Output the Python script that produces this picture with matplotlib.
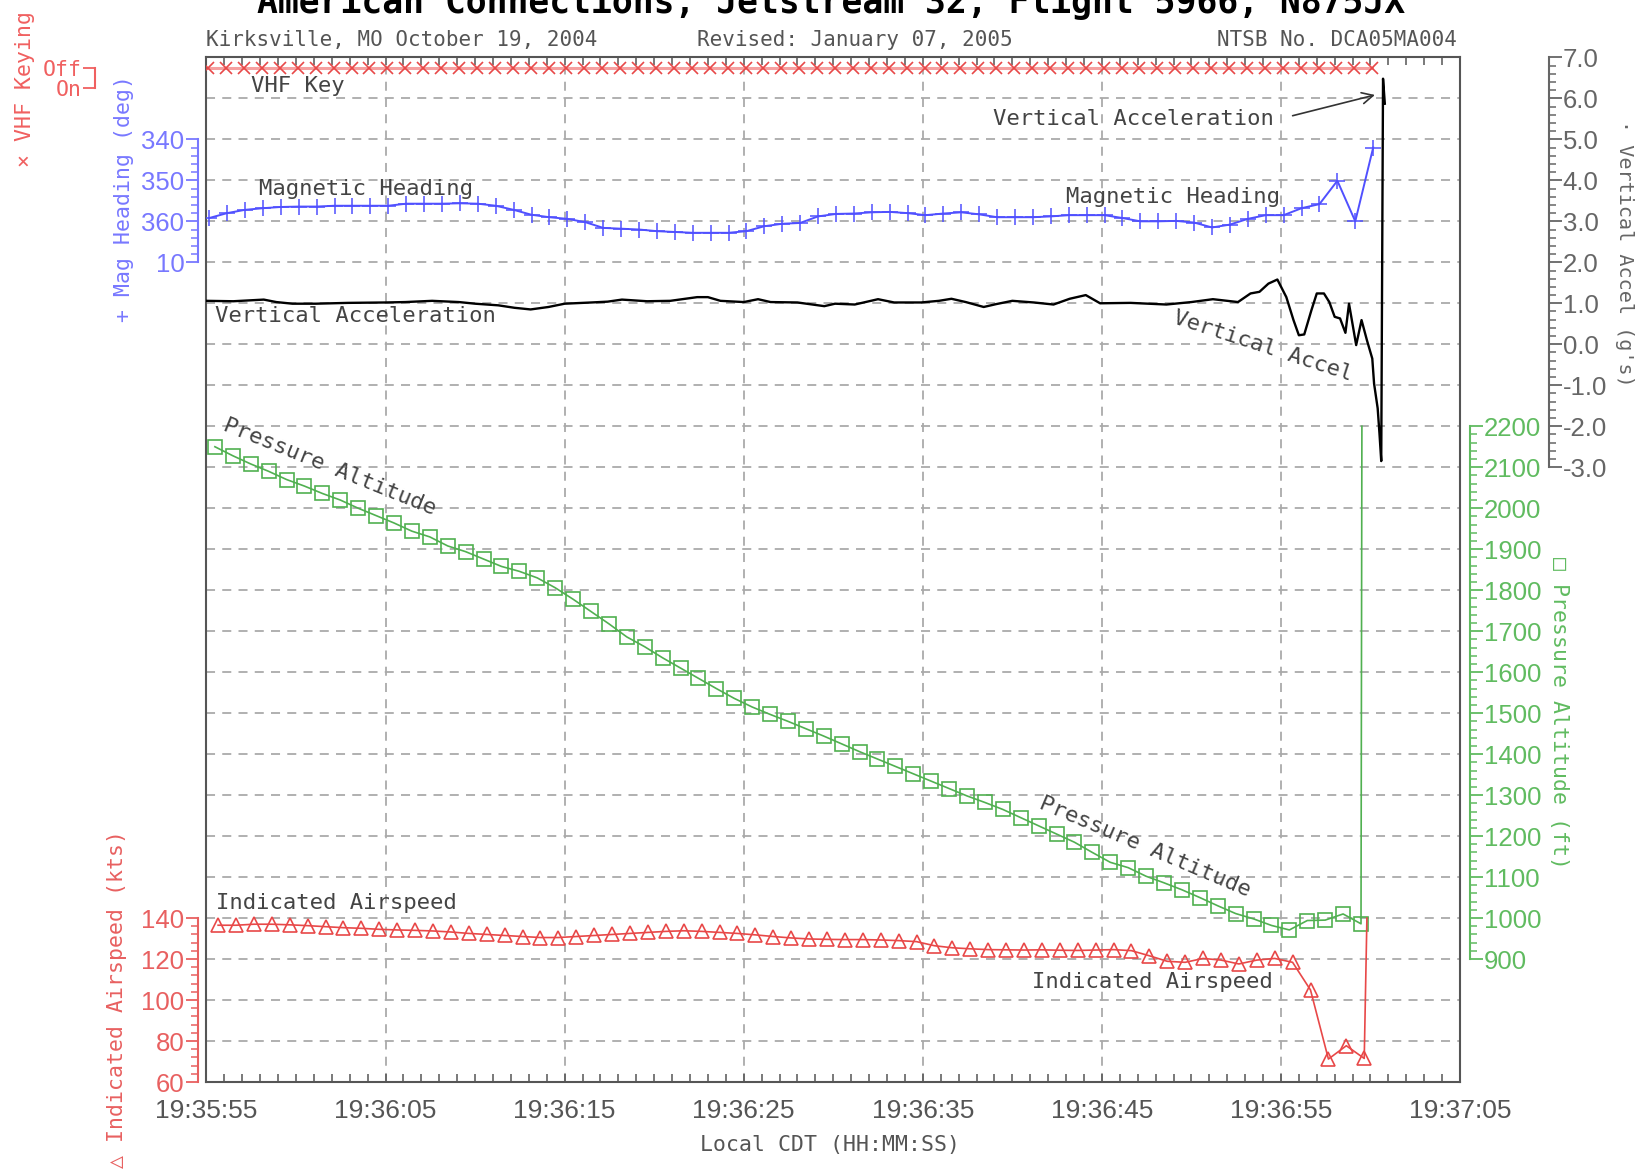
"""Flight data recorder plot: American Connections 5966 (NTSB DCA05MA004)."""

import matplotlib
matplotlib.use("Agg")
import matplotlib.pyplot as plt
from matplotlib.ticker import FixedLocator, MultipleLocator, FuncFormatter
import numpy as np

START = 19 * 3600 + 35 * 60 + 55   # 19:35:55 CDT, seconds of day
MONO = "DejaVu Sans Mono"
SANS = "Liberation Sans"

# ---- data (time = seconds after 19:35:55) ----
# VHF keying, 1 Hz, value 1 = Off for the whole record
vhf_t0 = 0.1
vhf_key = [1] * 66

# magnetic heading, 1 Hz (unwrapped degrees, 370 = 10)
hdg_t0 = 0.15
heading = [
    359.2, 358.0, 357.2, 356.8, 356.5, 356.4, 356.4, 356.2, 356.2, 356.2,
    356.2, 355.7, 355.7, 355.7, 355.6, 355.7, 356.2, 357.2, 358.4, 359.0,
    359.4, 360.2, 361.6, 361.8, 362.0, 362.4, 362.6, 362.8, 362.8, 362.8,
    362.4, 361.2, 360.6, 360.4, 358.8, 358.2, 358.1, 357.8, 357.7, 358.0,
    358.5, 358.1, 357.8, 358.3, 359.0, 359.0, 359.0, 358.8, 358.5, 358.5,
    358.5, 359.2, 360.0, 360.0, 359.9, 360.3, 361.5, 360.8, 359.4, 358.5,
    358.5, 356.8, 355.8, 350.1, 360.0, 342.0,
]

# indicated airspeed (kts), 1 Hz, last sample runs off scale
ias_t0 = 0.65
airspeed = [
    136.5, 136.5, 137.0, 137.0, 136.7, 136.3, 135.8, 135.3, 135.0, 134.5,
    134.2, 134.0, 133.7, 133.2, 132.5, 132.0, 131.5, 131.0, 130.5, 130.5,
    131.0, 131.5, 132.0, 132.5, 133.0, 133.5, 133.8, 133.5, 133.0, 132.5,
    131.8, 131.0, 130.3, 129.8, 129.6, 129.5, 129.5, 129.3, 129.0, 128.5,
    126.5, 125.5, 125.0, 124.6, 124.5, 124.4, 124.5, 124.3, 124.2, 124.4,
    124.6, 124.1, 121.6, 118.9, 118.4, 120.3, 119.5, 117.6, 119.5, 120.3,
    118.4, 104.9, 71.2, 77.7, 71.5,
]
ias_end = (64.8, 140.0)

# pressure altitude (ft), 1 Hz, last sample runs off scale
alt_t0 = 0.47
altitude = [
    2150, 2128, 2108, 2090, 2070, 2054, 2036, 2020, 2000, 1982,
    1964, 1944, 1930, 1908, 1894, 1876, 1858, 1846, 1830, 1806,
    1778, 1748, 1718, 1686, 1662, 1635, 1610, 1585, 1560, 1536,
    1515, 1497, 1480, 1462, 1444, 1425, 1406, 1388, 1370, 1352,
    1334, 1316, 1298, 1282, 1265, 1245, 1225, 1205, 1185, 1160,
    1136, 1123, 1102, 1086, 1069, 1050, 1030, 1011, 998, 982,
    971, 994, 995, 1010, 986,
]
alt_end = (64.52, 2200.0)

# vertical acceleration (g)
accel_t = [
    0.0, 1.5, 3.2, 3.9, 4.8, 6.1, 7.9, 10.0, 11.1, 12.6, 14.1, 15.0, 16.3,
    17.2, 18.1, 19.1, 20.0, 21.5, 22.4, 23.2, 24.6, 25.9, 27.4, 28.0, 28.7,
    30.0, 30.8, 31.5, 33.0, 34.5, 35.1, 36.2, 37.5, 38.4, 39.9, 40.9, 41.6,
    42.4, 43.4, 44.1, 45.0, 46.2, 47.3, 48.2, 49.1, 49.9, 51.6, 53.6, 55.0,
    56.2, 57.6, 58.3, 58.8, 59.3, 59.8, 60.3, 60.7, 61.0, 61.3, 61.7, 62.0,
    62.4, 62.7, 63.0, 63.3, 63.6, 63.8, 64.2, 64.5, 64.8, 65.1, 65.2, 65.4,
    65.5, 65.6, 65.7, 65.8,
]
accel_g = [
    1.06, 1.05, 1.09, 1.03, 0.99, 0.99, 1.01, 1.02, 1.03, 1.06, 1.03, 0.99, 0.95,
    0.89, 0.85, 0.91, 0.99, 1.02, 1.04, 1.09, 1.05, 1.06, 1.15, 1.15, 1.06,
    1.03, 1.10, 1.03, 1.02, 0.93, 0.99, 0.97, 1.10, 1.02, 1.02, 1.06, 1.11,
    1.03, 0.91, 0.98, 1.06, 1.02, 0.97, 1.11, 1.20, 1.00, 1.01, 0.97, 1.03,
    1.10, 1.03, 1.24, 1.28, 1.48, 1.58, 1.15, 0.59, 0.22, 0.24, 0.83, 1.24,
    1.24, 1.03, 0.67, 0.63, 0.28, 0.99, -0.02, 0.59, 0.10, -0.35, -0.96, -1.56,
    -2.17, -2.85, 6.48, 5.87,
]

# colours
RED = "#e84848"
BLUE = "#5050ff"
GREEN = "#50b050"
GREY = "#555555"


def hms(sec, _pos=None):
    s = START + int(round(sec))
    return "{:02d}:{:02d}:{:02d}".format(s // 3600, s % 3600 // 60, s % 60)


fig = plt.figure(figsize=(16.44, 11.71), dpi=100)
# main frame: 70 s wide, 25 grid rows
ax = fig.add_axes([0.1256, 0.076, 0.7625, 0.875])
ax.set_xlim(0, 70)
ax.set_ylim(0, 25)
ax.xaxis.set_major_locator(MultipleLocator(10))
ax.xaxis.set_minor_locator(MultipleLocator(1))
ax.yaxis.set_major_locator(MultipleLocator(1))
ax.xaxis.set_major_formatter(FuncFormatter(hms))
ax.tick_params(axis="x", which="both", direction="in", top=True, length=6,
               width=1.1, color=GREY, labelsize=19, labelcolor=GREY, pad=12)
ax.tick_params(axis="y", which="both", length=0, labelleft=False)
for lab in ax.get_xticklabels():
    lab.set_family(SANS)
for sp in ax.spines.values():
    sp.set_color(GREY)
    sp.set_linewidth(1.5)
ax.grid(True, which="major", color="#aaaaaa", ls=(0, (5, 4)), lw=1.3)


def add_scale(side, offset, ylim, bounds, color, major, minor):
    a = ax.twinx()
    a.set_ylim(*ylim)
    for name, sp in a.spines.items():
        sp.set_visible(name == side)
    sp = a.spines[side]
    sp.set_position(("outward", offset))
    sp.set_bounds(*bounds)
    sp.set_color(color)
    sp.set_linewidth(1.5)
    a.yaxis.set_ticks_position(side)
    a.yaxis.set_label_position(side)
    a.yaxis.set_major_locator(FixedLocator(major))
    a.yaxis.set_minor_locator(FixedLocator(minor))
    a.tick_params(axis="y", which="major", colors=color, length=9, width=1.3,
                  labelsize=18.5, pad=1)
    a.tick_params(axis="y", which="minor", colors=color, length=5, width=1.1)
    for lab in a.get_yticklabels():
        lab.set_family(SANS)
    return a


# --- magnetic heading (left, inverted, 10 deg per row) ---
ax_h = add_scale("left", 6, (570, 320), (340, 370), "#7878ff",
                 [340, 350, 360, 370], np.arange(340, 371, 2))
ax_h.set_yticklabels(["340", "350", "360", "10"])
t = hdg_t0 + np.arange(len(heading))
ax_h.plot(t, heading, color=BLUE, lw=1.4, marker="+", ms=11, mew=1.1)

# --- vertical acceleration (right, outer) ---
ax_g = add_scale("right", 64, (-18, 7), (-3, 7), "#666666",
                 np.arange(-3, 8), np.arange(-3, 7.01, 0.2))
ax_g.yaxis.set_major_formatter(FuncFormatter(lambda v, _: "%.1f" % v))
ax_g.plot(accel_t, accel_g, color="black", lw=1.7)

# --- pressure altitude (right, inner) ---
ax_p = add_scale("right", 7, (600, 3100), (900, 2200), "#60bb60",
                 np.arange(900, 2201, 100), np.arange(900, 2201, 20))
t = alt_t0 + np.arange(len(altitude))
ax_p.plot(np.append(t, alt_end[0]), np.append(altitude, alt_end[1]),
          color=GREEN, lw=1.2)
ax_p.plot(t, altitude, ls="none", marker="s", ms=9.5, mfc="none",
          mec=GREEN, mew=1.2)

# --- indicated airspeed (left, bottom) ---
ax_a = add_scale("left", 6, (60, 560), (60, 140), "#e86060",
                 np.arange(60, 141, 20), np.arange(60, 141, 4))
t = ias_t0 + np.arange(len(airspeed))
ax_a.plot(np.append(t, ias_end[0]), np.append(airspeed, ias_end[1]),
          color=RED, lw=1.2)
ax_a.plot(t, airspeed, ls="none", marker="^", ms=10, mfc="none",
          mec=RED, mew=1.2)

# --- VHF keying (left, far) ---
ax_v = add_scale("left", 80, (-48.5, 1.5), (0, 1), "#f06060", [0, 1], [])
ax_v.set_yticklabels(["On", "Off"])
for lab in ax_v.get_yticklabels():
    lab.set_family(MONO)
    lab.set_fontsize(15.5)
t = vhf_t0 + np.arange(len(vhf_key))
ax_v.plot(t, vhf_key, color="#f5a0a0", lw=2.2)
ax_v.plot(t, vhf_key, ls="none", marker="x", ms=8.5, mew=1.2, color=RED)

# --- axis titles ---
lab_kw = dict(family=MONO, fontsize=15.5, ha="center", va="center",
              transform=ax.transAxes)
ax.text(-0.145, 0.969, "\u00d7 VHF Keying", rotation=90, color="#f06060", **lab_kw)
ax.text(-0.066, 0.862, "+ Mag Heading (deg)", rotation=90, color="#7878ff", **lab_kw)
ax.text(-0.071, 0.081, "\u25b3 Indicated Airspeed (kts)", rotation=90,
        color="#e86060", **lab_kw)
ax.text(1.079, 0.36, "\u25a1 Pressure Altitude (ft)", rotation=-90,
        color="#60bb60", **lab_kw)
lab_kw["fontsize"] = 14.5
ax.text(1.131, 0.809, "\u00b7 Vertical Accel (g's)", rotation=-90,
        color="#666666", **lab_kw)

# --- in-plot labels ---
txt = dict(family=MONO, fontsize=16, color="#444444")
ax.text(2.5, 24.3, "VHF Key", va="center", **txt)
ax.text(2.95, 21.8, "Magnetic Heading", va="center", **txt)
ax.text(48.0, 21.6, "Magnetic Heading", va="center", **txt)
ax.text(43.9, 23.5, "Vertical Acceleration", va="center", **txt)
ax.annotate("", xy=(65.4, 24.1), xytext=(60.5, 23.56),
            arrowprops=dict(arrowstyle="->", color="#333333", lw=1.2,
                            mutation_scale=20))
ax.text(0.47, 18.7, "Vertical Acceleration", va="center", **txt)
ax.text(59.0, 17.95, "Vertical Accel", ha="center", va="center",
        rotation=-18, **txt)
ax.text(6.9, 15.0, "Pressure Altitude", ha="center", va="center",
        rotation=-22, **txt)
ax.text(52.4, 5.73, "Pressure Altitude", ha="center", va="center",
        rotation=-23, **txt)
ax.text(0.53, 4.37, "Indicated Airspeed", va="center", **txt)
ax.text(46.1, 2.44, "Indicated Airspeed", va="center", **txt)

# --- header / footer ---
fig.text(0.5055, 0.989, "American Connections, Jetstream 32, Flight 5966, N875JX",
         ha="center", va="baseline", family=MONO, fontsize=25,
         fontweight="bold", color="black")
hdr = dict(family=MONO, fontsize=15, color=GREY, va="center")
fig.text(206 / 1644, 0.9658, "Kirksville, MO October 19, 2004", ha="left", **hdr)
fig.text(855 / 1644, 0.9658, "Revised: January 07, 2005", ha="center", **hdr)
fig.text(1457 / 1644, 0.9658, "NTSB No. DCA05MA004", ha="right", **hdr)
fig.text(830 / 1644, (1171 - 1145) / 1171, "Local CDT (HH:MM:SS)",
         ha="center", va="center", family=MONO, fontsize=15.5, color=GREY)

fig.savefig("out.png", dpi=100)
